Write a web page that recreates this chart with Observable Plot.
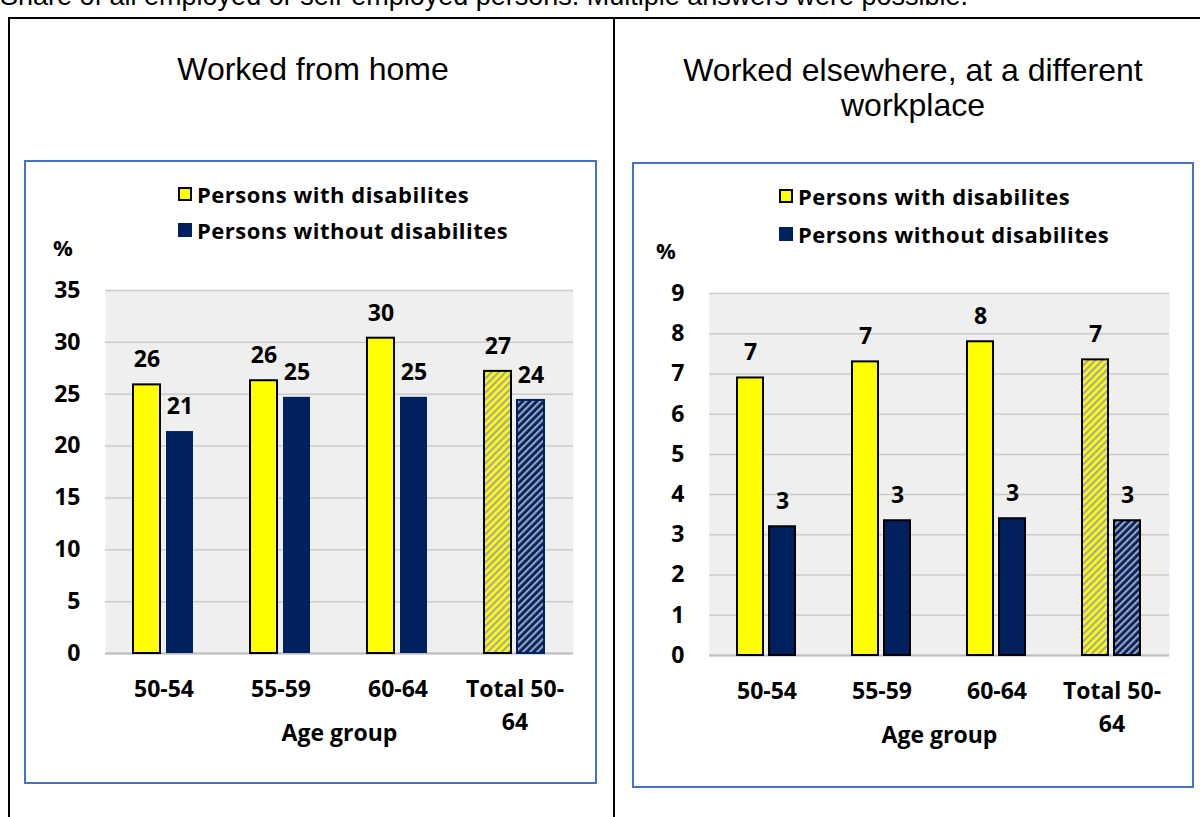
<!DOCTYPE html>
<html><head><meta charset="utf-8">
<script src="https://cdn.jsdelivr.net/npm/d3@7"></script>
<script src="https://cdn.jsdelivr.net/npm/@observablehq/plot@0.6"></script>
<style>
body{margin:0;background:#fff;width:1200px;height:817px;overflow:hidden;position:relative;font-family:"Liberation Sans",Arial,sans-serif;}
.abs{position:absolute;}
.note{left:0;top:-17px;font-size:27px;line-height:27px;white-space:nowrap;color:#000;}
.tbl{left:8px;top:17px;width:1300px;height:900px;border-left:2px solid #000;border-top:2px solid #000;}
.vline{left:613px;top:17px;width:2px;height:900px;background:#000;}
.title{font-size:32px;text-align:center;line-height:35px;color:#000;}
.box{border:2px solid #4472c4;box-sizing:border-box;}
.leg{font-family:"Open Sans",Lato,sans-serif;font-weight:bold;font-size:22px;letter-spacing:0.5px;color:#000;white-space:nowrap;display:flex;align-items:center;}
.sw{width:14px;height:14px;box-sizing:border-box;margin-right:5px;}
.pct{font-family:"Open Sans",sans-serif;font-weight:bold;font-size:22px;color:#000;}
</style></head>
<body>
<div class="abs note">Share of all employed or self-employed persons. Multiple answers were possible.</div>
<div class="abs tbl"></div>
<div class="abs vline"></div>
<div class="abs title" style="left:14px;width:598px;top:52px;">Worked from home</div>
<div class="abs title" style="left:620px;width:586px;top:53px;">Worked elsewhere, at a different<br>workplace</div>
<div class="abs box" style="left:24px;top:160px;width:573px;height:624px;"></div>
<div class="abs box" style="left:632px;top:162px;width:562px;height:626px;"></div>
<div class="abs leg" style="left:178px;top:179px;"><div class="sw" style="background:#ffff00;border:2px solid #000;"></div><span id="l1a"></span></div>
<div class="abs leg" style="left:178px;top:215px;"><div class="sw" style="background:#002060;"></div><span id="l1b"></span></div>
<div class="abs leg" style="left:779px;top:181px;"><div class="sw" style="background:#ffff00;border:2px solid #000;"></div><span id="l2a"></span></div>
<div class="abs leg" style="left:779px;top:219px;"><div class="sw" style="background:#002060;"></div><span id="l2b"></span></div>
<div class="abs pct" style="left:53px;top:232px;">%</div>
<div class="abs pct" style="left:656px;top:235px;">%</div>
<div id="c1" class="abs" style="left:24px;top:260px;"></div>
<div id="c2" class="abs" style="left:633px;top:263px;"></div>
<script>
const categories = ["50-54", "55-59", "60-64", "Total 50-64"];
const seriesNames = ["Persons with disabilites", "Persons without disabilites"];
const homeWith = [25.9, 26.3, 30.4, 27.2];
const homeWithout = [21.4, 24.7, 24.7, 24.4];
const elseWith = [6.9, 7.3, 7.8, 7.35];
const elseWithout = [3.2, 3.35, 3.4, 3.35];
const homeTicks = [0, 5, 10, 15, 20, 25, 30, 35];
const elseTicks = [0, 1, 2, 3, 4, 5, 6, 7, 8, 9];

document.getElementById("l1a").textContent = seriesNames[0];
document.getElementById("l1b").textContent = seriesNames[1];
document.getElementById("l2a").textContent = seriesNames[0];
document.getElementById("l2b").textContent = seriesNames[1];

const defs = `
<pattern id="hatchY" width="5" height="5" patternUnits="userSpaceOnUse" patternTransform="rotate(45)">
  <rect width="5" height="5" fill="#ffff00"/><rect width="2.2" height="5" fill="#a6a6a6"/>
</pattern>
<pattern id="hatchN" width="5" height="5" patternUnits="userSpaceOnUse" patternTransform="rotate(45)">
  <rect width="5" height="5" fill="#002060"/><rect width="2.2" height="5" fill="#9aa3b5"/>
</pattern>`;

function makeChart(withVals, withoutVals, ticks, opt) {
  const rows = [];
  categories.forEach((c, i) => {
    rows.push({cat: c, series: seriesNames[0], value: withVals[i], total: i === 3});
    rows.push({cat: c, series: seriesNames[1], value: withoutVals[i], total: i === 3});
  });
  const svg = Plot.plot({
    width: opt.width, height: 500,
    marginTop: 30, marginBottom: 500 - 30 - opt.plotH, marginLeft: opt.ml, marginRight: opt.mr,
    fx: {domain: categories, padding: 0},
    x: {domain: seriesNames, paddingInner: opt.pi, paddingOuter: opt.po, axis: null},
    y: {domain: [0, ticks[ticks.length - 1]]},
    color: {type: "identity"},
    style: {fontFamily: "'Open Sans', sans-serif", fontWeight: "bold", fontSize: "23px", color: "#000", background: "transparent", overflow: "visible"},
    marks: [
      Plot.frame({fill: "#efefef", stroke: null}),
      Plot.gridY(ticks, {stroke: "#cccccc", strokeOpacity: 1, strokeWidth: 1.5}),
      Plot.ruleY([0], {stroke: "#bdbdbd", strokeWidth: 2}),
      Plot.barY(rows, {
        fx: "cat", x: "series", y: "value",
        fill: d => d.series === seriesNames[0] ? (d.total ? "url(#hatchY)" : "#ffff00") : (d.total ? "url(#hatchN)" : "#002060"),
        stroke: d => d.series === seriesNames[0] ? "#000" : (opt.blueStroke ? "#000" : (d.total ? "#002060" : "none")),
        strokeWidth: 2
      }),
      Plot.text(rows, {fx: "cat", x: "series", y: "value", text: d => String(Math.round(d.value)), dy: -25, fontSize: 23, fontWeight: "bold", fill: "#000"}),
      Plot.axisY(ticks, {tickSize: 0, tickPadding: 25, label: null, fontSize: 23}),
      Plot.axisFx({anchor: "bottom", tickSize: 0, tickPadding: 21, label: "Age group", labelAnchor: "center", labelArrow: "none", labelOffset: 87, lineHeight: 1.4,
        tickFormat: d => d === "Total 50-64" ? "Total 50-\n64" : d, fontSize: 23})
    ]
  });
  d3.select(svg).insert("defs", ":first-child").html(defs);
  return svg;
}

document.getElementById("c1").append(makeChart(homeWith, homeWithout, homeTicks,
  {width: 572, ml: 80, mr: 23, plotH: 363, pi: 0.176, po: 0.81, blueStroke: false}));
document.getElementById("c2").append(makeChart(elseWith, elseWithout, elseTicks,
  {width: 560, ml: 75, mr: 23, plotH: 362, pi: 0.18, po: 0.84, blueStroke: true}));
</script>
</body></html>
